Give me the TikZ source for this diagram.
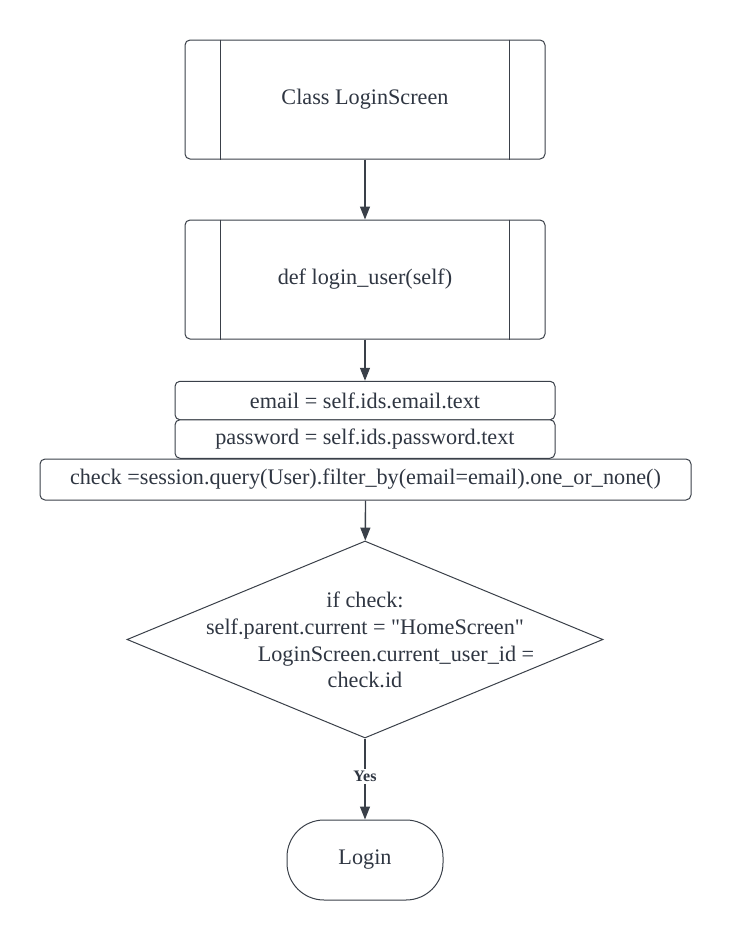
\documentclass[tikz,border=0pt]{standalone}
\usepackage{fontspec}
\setmainfont{Liberation Serif}
\newfontfamily\qfont{Liberation Serif}
\usetikzlibrary{arrows.meta,shapes.geometric}
\definecolor{lc}{HTML}{3A4049}
\definecolor{tc}{HTML}{2F3642}
\tikzset{
  base/.style={draw=lc, line width=1pt, fill=white, text=tc, inner sep=0pt,
    font=\fontsize{22.2}{26.7}\selectfont},
  procbox/.style={base, rounded corners=5pt, minimum width=360pt, minimum height=119pt},
  stepbox/.style={base, rounded corners=5pt, minimum height=38.5pt},
  termbox/.style={base, rounded corners=37pt, minimum width=156pt, minimum height=80pt},
  conn/.style={draw=lc, line width=1.3pt, -{Triangle[length=13pt,width=10pt]}},
  lab/.style={fill=white, text=tc, inner sep=2pt, font=\fontsize{16}{18}\bfseries\selectfont}
}
\begin{document}
\begin{tikzpicture}[x=1pt,y=-1pt]
\useasboundingbox (0,0) rectangle (730,940);
% predefined process boxes
\node[procbox] (cls) at (365,99.5) {Class LoginScreen};
\draw[lc, line width=1pt] ([xshift=36pt]cls.north west) -- ([xshift=36pt]cls.south west)
  ([xshift=-36pt]cls.north east) -- ([xshift=-36pt]cls.south east);
\node[procbox] (def) at (365,279.5) {def login\_user(self)};
\draw[lc, line width=1pt] ([xshift=36pt]def.north west) -- ([xshift=36pt]def.south west)
  ([xshift=-36pt]def.north east) -- ([xshift=-36pt]def.south east);
% steps
\node[stepbox, minimum width=380pt] (email) at (365,400.5) {email = self.ids.email.text};
\node[stepbox, minimum width=380pt] (pass) at (365,439) {password = self.ids.password.text};
\node[stepbox, minimum width=651pt, minimum height=41pt] (chk) at (365.5,479.5)
  {check =session.query(User).filter\_by(email=email).one\_or\_none()};
% decision
\node[base, shape=diamond, minimum width=476pt, minimum height=197pt] (dia) at (365,639.5) {};
\node[text=tc, align=center, inner sep=0pt, font=\qfont\fontsize{22.2}{26.7}\selectfont] (diatext) at (365,640)
  {if check:\\ self.parent.current = "HomeScreen"\\ \hspace*{62pt}LoginScreen.current\_user\_id =\\ check.id};
% terminal
\node[termbox] (login) at (365,860) {Login};
% connectors
\draw[conn] (cls) -- (def);
\draw[conn] (def) -- (email);
\draw[conn] (chk) -- (dia);
\draw[conn] (dia.south) -- node[lab, pos=0.47] (yes) {Yes} (login);
\end{tikzpicture}
\end{document}
